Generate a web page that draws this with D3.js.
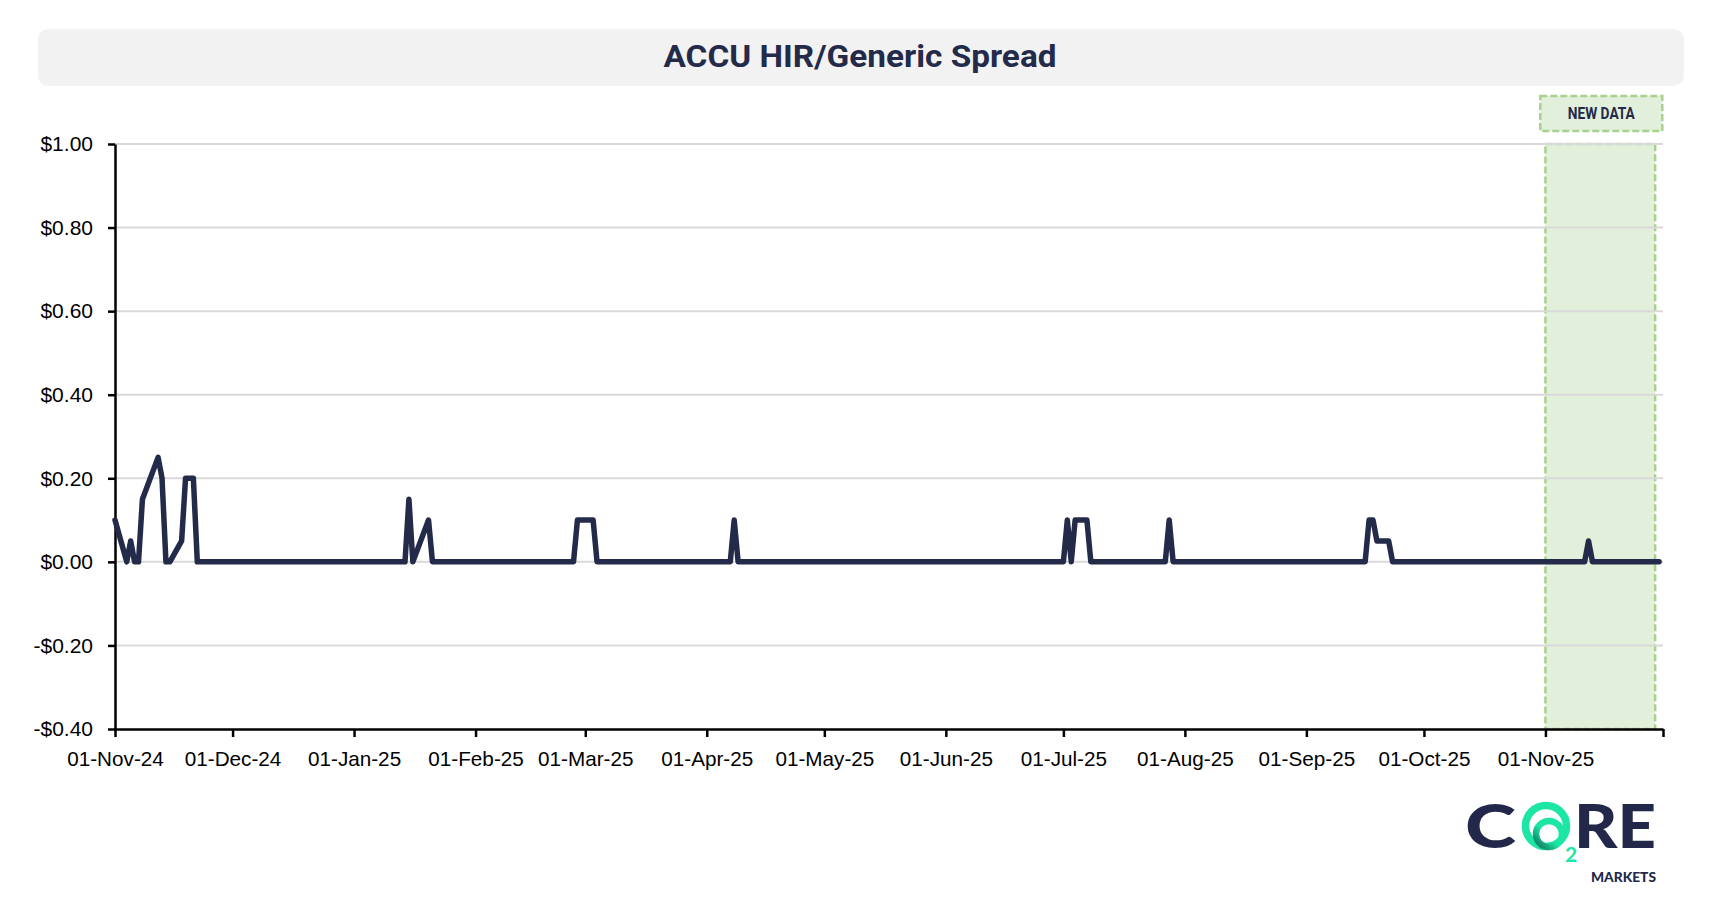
<!DOCTYPE html>
<html>
<head>
<meta charset="utf-8">
<script src="https://cdn.jsdelivr.net/npm/d3@7/dist/d3.min.js"></script>
<style>
  html, body { margin: 0; padding: 0; background: #ffffff; }
  svg { display: block; }
</style>
</head>
<body>
<svg id="chart" width="1720" height="919"></svg>
<script>
// ---------------- DATA ----------------
const chartTitle = "ACCU HIR/Generic Spread";
const dates = [
  "2024-11-01","2024-11-04","2024-11-05","2024-11-06","2024-11-07","2024-11-08",
  "2024-11-12","2024-11-13","2024-11-14","2024-11-15","2024-11-18","2024-11-19",
  "2024-11-21","2024-11-22","2025-01-14","2025-01-15","2025-01-16","2025-01-20",
  "2025-01-21","2025-02-26","2025-02-27","2025-02-28","2025-03-03","2025-03-04",
  "2025-04-07","2025-04-08","2025-04-09","2025-07-01","2025-07-02","2025-07-03",
  "2025-07-04","2025-07-07","2025-07-08","2025-07-27","2025-07-28","2025-07-29",
  "2025-09-16","2025-09-17","2025-09-18","2025-09-19","2025-09-22","2025-09-23",
  "2025-11-11","2025-11-12","2025-11-13","2025-11-30"
];
const spread = [
  0.10, 0.00, 0.05, 0.00, 0.00, 0.15,
  0.25, 0.20, 0.00, 0.00, 0.05, 0.20,
  0.20, 0.00, 0.00, 0.15, 0.00, 0.10,
  0.00, 0.00, 0.10, 0.10, 0.10, 0.00,
  0.00, 0.10, 0.00, 0.00, 0.10, 0.00,
  0.10, 0.10, 0.00, 0.00, 0.10, 0.00,
  0.00, 0.10, 0.10, 0.05, 0.05, 0.00,
  0.00, 0.05, 0.00, 0.00
];
const yTicks = [-0.40, -0.20, 0.00, 0.20, 0.40, 0.60, 0.80, 1.00];
const xTickDates = [
  "2024-11-01","2024-12-01","2025-01-01","2025-02-01","2025-03-01","2025-04-01",
  "2025-05-01","2025-06-01","2025-07-01","2025-08-01","2025-09-01","2025-10-01","2025-11-01"
];
const xDomain = ["2024-11-01", "2025-12-01"];
const yDomain = [-0.40, 1.00];
const newDataRange = ["2025-11-01", "2025-11-29"];
const newDataLabel = "NEW DATA";

// ---------------- LAYOUT ----------------
const parse = d3.utcParse("%Y-%m-%d");
const svg = d3.select("#chart");
const m = { left: 115, right: 1663, top: 144, bottom: 729 };

const x = d3.scaleUtc().domain(xDomain.map(parse)).range([m.left, m.right]);
const y = d3.scaleLinear().domain(yDomain).range([m.bottom, m.top]);

const navy = "#242a4a";
const greenFill = "#e2efda";
const greenStroke = "#a9d18e";

// Title box
svg.append("rect")
  .attr("x", 38).attr("y", 29).attr("width", 1646).attr("height", 57)
  .attr("rx", 10).attr("ry", 10)
  .attr("fill", "#f2f2f2");
svg.append("text")
  .attr("x", 860).attr("y", 67)
  .attr("text-anchor", "middle")
  .attr("font-family", "Roboto, 'Noto Sans', sans-serif")
  .attr("font-weight", 700)
  .attr("font-size", 31)
  .attr("textLength", 393)
  .attr("lengthAdjust", "spacingAndGlyphs")
  .attr("fill", navy)
  .text(chartTitle);

// New data shaded region
const nx0 = x(parse(newDataRange[0])), nx1 = x(parse(newDataRange[1]));
svg.append("rect")
  .attr("x", nx0).attr("y", m.top)
  .attr("width", nx1 - nx0).attr("height", m.bottom - m.top)
  .attr("fill", greenFill)
  .attr("stroke", greenStroke)
  .attr("stroke-width", 2.5)
  .attr("stroke-dasharray", "7,3");

// New data label box
const labelCx = (nx0 + nx1) / 2 + 1;
svg.append("rect")
  .attr("x", labelCx - 61).attr("y", 96)
  .attr("width", 122).attr("height", 35)
  .attr("fill", greenFill)
  .attr("stroke", greenStroke)
  .attr("stroke-width", 2.5)
  .attr("stroke-dasharray", "7,3");
svg.append("text")
  .attr("x", labelCx).attr("y", 119)
  .attr("text-anchor", "middle")
  .attr("font-family", "Roboto, 'Noto Sans', sans-serif")
  .attr("font-weight", 700)
  .attr("font-size", 16)
  .attr("textLength", 67)
  .attr("lengthAdjust", "spacingAndGlyphs")
  .attr("fill", navy)
  .text(newDataLabel);

// Gridlines
svg.append("g")
  .selectAll("line")
  .data(yTicks.filter(v => v > yDomain[0]))
  .join("line")
  .attr("x1", m.left).attr("x2", m.right)
  .attr("y1", d => y(d)).attr("y2", d => y(d))
  .attr("stroke", "#d9d9d9")
  .attr("stroke-width", 2);

// Y axis
const fmtY = v => (v < 0 ? "-$" : "$") + Math.abs(v).toFixed(2);
const yAxis = svg.append("g")
  .attr("transform", `translate(${m.left},0)`)
  .call(d3.axisLeft(y).tickValues(yTicks).tickFormat(fmtY).tickSizeOuter(0).tickSizeInner(7).tickPadding(15));
yAxis.select(".domain").attr("stroke", "#000").attr("stroke-width", 2.5);
yAxis.selectAll(".tick line").attr("stroke", "#000").attr("stroke-width", 2.5);
yAxis.selectAll(".tick text")
  .attr("font-family", "'Liberation Sans', Arial, sans-serif")
  .attr("font-size", 21)
  .attr("fill", "#000");

// X axis
const xTicks = xTickDates.map(parse).concat([parse(xDomain[1])]);
const fmtX = d3.utcFormat("%d-%b-%y");
const xAxis = svg.append("g")
  .attr("transform", `translate(0,${m.bottom})`)
  .call(d3.axisBottom(x).tickValues(xTicks)
    .tickFormat((d, i) => i < xTickDates.length ? fmtX(d) : "")
    .tickSizeOuter(0).tickSizeInner(8));
xAxis.select(".domain").attr("stroke", "#000").attr("stroke-width", 2.5);
xAxis.selectAll(".tick line").attr("stroke", "#000").attr("stroke-width", 2.5);
xAxis.selectAll(".tick text")
  .attr("dy", null)
  .attr("y", 37)
  .attr("font-family", "'Liberation Sans', Arial, sans-serif")
  .attr("font-size", 20.7)
  .attr("fill", "#000");

// Line series
const series = dates.map((d, i) => ({ date: parse(d), value: spread[i] }));
svg.append("path")
  .datum(series)
  .attr("fill", "none")
  .attr("stroke", navy)
  .attr("stroke-width", 5.5)
  .attr("stroke-linejoin", "round")
  .attr("stroke-linecap", "round")
  .attr("d", d3.line().x(d => x(d.date)).y(d => y(d.value)));

// Logo
const logo = svg.append("g");
const logoNavy = "#23284a";
const logoGreen = "#1ce6a4";
logo.append("text")
  .attr("x", 1465).attr("y", 848)
  .attr("font-family", "Lato, 'Noto Sans', sans-serif")
  .attr("font-weight", 900)
  .attr("font-size", 60)
  .attr("textLength", 51)
  .attr("lengthAdjust", "spacingAndGlyphs")
  .attr("fill", logoNavy)
  .text("C");
logo.append("text")
  .attr("x", 1574).attr("y", 848)
  .attr("font-family", "Lato, 'Noto Sans', sans-serif")
  .attr("font-weight", 900)
  .attr("font-size", 60)
  .attr("textLength", 82)
  .attr("lengthAdjust", "spacingAndGlyphs")
  .attr("fill", logoNavy)
  .text("RE");
const defs = svg.append("defs");
const grad = defs.append("linearGradient").attr("id", "ringGrad")
  .attr("x1", "0").attr("y1", "1").attr("x2", "1").attr("y2", "0");
grad.append("stop").attr("offset", "0%").attr("stop-color", "#0f6f5a");
grad.append("stop").attr("offset", "45%").attr("stop-color", logoGreen);
grad.append("stop").attr("offset", "100%").attr("stop-color", logoGreen);
logo.append("circle")
  .attr("cx", 1546).attr("cy", 826).attr("r", 20.5)
  .attr("fill", "none").attr("stroke", logoGreen).attr("stroke-width", 7.5);
logo.append("circle")
  .attr("cx", 1549).attr("cy", 834).attr("r", 13)
  .attr("fill", "none").attr("stroke", "url(#ringGrad)").attr("stroke-width", 6.5);
logo.append("text")
  .attr("x", 1571).attr("y", 862)
  .attr("text-anchor", "middle")
  .attr("font-family", "Lato, 'Noto Sans', sans-serif")
  .attr("font-weight", 700)
  .attr("font-size", 21)
  .attr("fill", logoGreen)
  .text("2");
logo.append("text")
  .attr("x", 1591).attr("y", 882)
  .attr("font-family", "Lato, 'Noto Sans', sans-serif")
  .attr("font-weight", 900)
  .attr("font-size", 14)
  .attr("textLength", 65)
  .attr("lengthAdjust", "spacingAndGlyphs")
  .attr("fill", logoNavy)
  .text("MARKETS");
</script>
</body>
</html>
